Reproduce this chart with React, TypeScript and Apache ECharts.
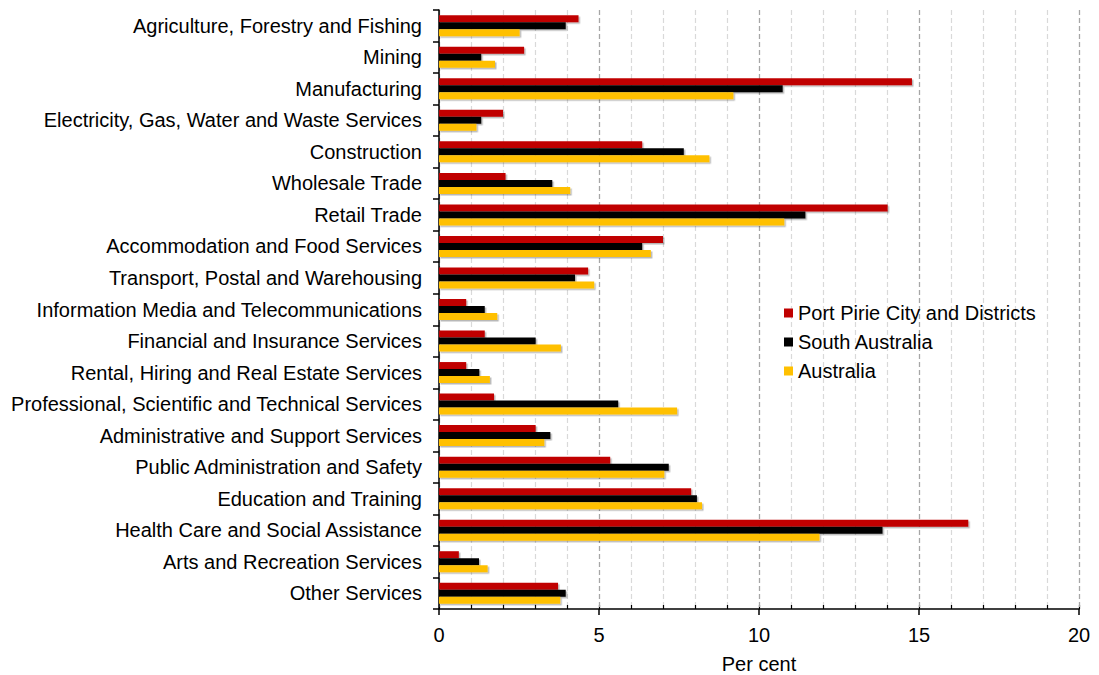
import React, { useEffect, useRef } from "react";
import * as echarts from "echarts";

const categories = [
  "Agriculture, Forestry and Fishing",
  "Mining",
  "Manufacturing",
  "Electricity, Gas, Water and Waste Services",
  "Construction",
  "Wholesale Trade",
  "Retail Trade",
  "Accommodation and Food Services",
  "Transport, Postal and Warehousing",
  "Information Media and Telecommunications",
  "Financial and Insurance Services",
  "Rental, Hiring and Real Estate Services",
  "Professional, Scientific and Technical Services",
  "Administrative and Support Services",
  "Public Administration and Safety",
  "Education and Training",
  "Health Care and Social Assistance",
  "Arts and Recreation Services",
  "Other Services",
];

const portPirie = [4.36, 2.66, 14.78, 2.0, 6.35, 2.08, 14.02, 7.0, 4.66, 0.85, 1.43, 0.85, 1.72, 3.02, 5.35, 7.88, 16.54, 0.62, 3.72];
const southAustralia = [3.96, 1.32, 10.74, 1.32, 7.65, 3.54, 11.45, 6.35, 4.25, 1.43, 3.02, 1.26, 5.6, 3.48, 7.18, 8.06, 13.86, 1.25, 3.96];
const australia = [2.52, 1.75, 9.2, 1.17, 8.45, 4.1, 10.79, 6.62, 4.85, 1.82, 3.81, 1.59, 7.44, 3.29, 7.04, 8.22, 11.89, 1.52, 3.79];

const seriesNames = ["Port Pirie City and Districts", "South Australia", "Australia"];
const seriesColors = ["#C00000", "#000000", "#FFC000"];
const xTicks = [0, 5, 10, 15, 20];

const FONT = "'Liberation Sans', Arial, sans-serif";

export default function App() {
  const ref = useRef<HTMLDivElement>(null);
  useEffect(() => {
    document.body.style.margin = "0";
    if (!ref.current) return;
    const chart = echarts.init(ref.current, null, { renderer: "svg" });
    const datas = [portPirie, southAustralia, australia];
    chart.setOption({
      animation: false,
      backgroundColor: "#ffffff",
      textStyle: { fontFamily: FONT },
      grid: { left: 439, right: 20, top: 10, bottom: 66, containLabel: false, outerBoundsMode: "none" },
      legend: {
        orient: "vertical",
        left: 779,
        top: 298,
        itemWidth: 9,
        itemHeight: 9,
        itemGap: 9,
        icon: "rect",
        textStyle: { fontSize: 20, color: "#000", fontFamily: FONT },
        data: seriesNames,
      },
      xAxis: [
        {
          type: "value",
          min: 0,
          max: 20,
          interval: 5,
          name: "Per cent",
          nameLocation: "middle",
          nameGap: 45,
          nameTextStyle: { fontSize: 20, color: "#000", fontFamily: FONT },
          axisLine: { show: true, lineStyle: { color: "#000", width: 1.5 } },
          axisTick: { show: true, length: 6, lineStyle: { color: "#000", width: 1.5 } },
          axisLabel: {
            fontSize: 20,
            color: "#000",
            margin: 16,
            fontFamily: FONT,
            formatter: (v: number) => (xTicks.includes(v) ? String(v) : ""),
          },
          splitLine: { show: true, lineStyle: { color: "#a6a6a6", type: [5, 3], width: 1.2 } },
          z: 3,
        },
        {
          type: "value",
          min: 0,
          max: 20,
          interval: 1,
          position: "bottom",
          axisLine: { show: false },
          axisTick: { show: true, inside: true, length: 4, lineStyle: { color: "#000", width: 1.2 } },
          axisLabel: { show: false },
          splitLine: { show: true, lineStyle: { color: "#d9d9d9", type: [5, 3], width: 1.2 } },
          z: 2,
        },
      ],
      yAxis: {
        type: "category",
        inverse: true,
        data: categories,
        axisLine: { show: true, lineStyle: { color: "#000", width: 1.5 } },
        axisTick: { show: true, length: 6, lineStyle: { color: "#000", width: 1.5 } },
        axisLabel: { fontSize: 20, color: "#000", margin: 17, fontFamily: FONT },
        splitLine: { show: false },
        z: 4,
      },
      series: seriesNames.map((name, i) => ({
        name,
        type: "bar",
        xAxisIndex: 0,
        data: datas[i],
        barWidth: 7,
        barGap: "0%",
        itemStyle: {
          color: seriesColors[i],
          shadowColor: "rgba(0,0,0,0.28)",
          shadowOffsetX: 1.5,
          shadowOffsetY: 1.5,
          shadowBlur: 1,
        },
        z: 5,
      })),
    });
    return () => chart.dispose();
  }, []);
  return <div ref={ref} style={{ width: 1099, height: 675 }} />;
}
